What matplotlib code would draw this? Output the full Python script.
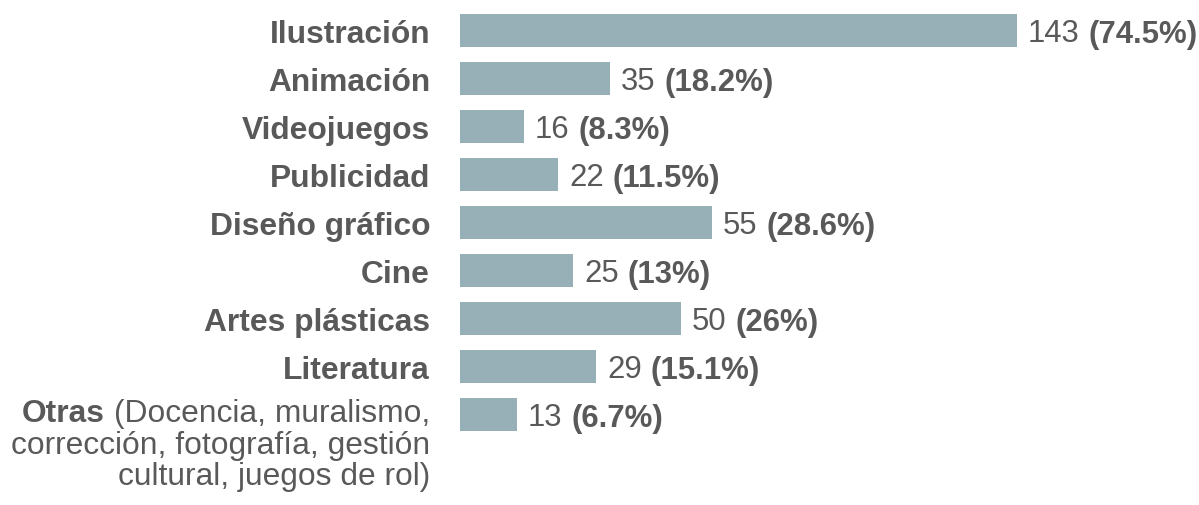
import matplotlib.pyplot as plt

categories = ["Ilustración", "Animación", "Videojuegos", "Publicidad",
              "Diseño gráfico", "Cine", "Artes plásticas", "Literatura", "Otras"]
counts = [143, 35, 16, 22, 55, 25, 50, 29, 13]
percents = ["74.5%", "18.2%", "8.3%", "11.5%", "28.6%", "13%", "26%", "15.1%", "6.7%"]
# bar lengths as drawn in the original picture (not strictly proportional to counts)
bar_lengths = [143, 38.5, 16.4, 25.2, 64.7, 29.0, 56.7, 34.9, 14.6]
otras_detail = ["(Docencia, muralismo,", "corrección, fotografía, gestión",
                "cultural, juegos de rol)"]

W, H = 1199, 506
BAR_X0 = 460          # left edge of bars in px
PX_PER_UNIT = 3.895
ROW0, ROW_STEP = 31.5, 48.0
FS_VAL = 22.4
FS_CAT = 22.9
GRAY = "#595959"
BAR_COLOR = "#97AFB6"
SPACE = 8.7           # width of a space in px

plt.rcParams["font.family"] = ["Liberation Sans", "DejaVu Sans"]

fig = plt.figure(figsize=(W / 100, H / 100), dpi=100)
ax = fig.add_axes([BAR_X0 / W, 0, 1 - BAR_X0 / W, 1])
ax.set_xlim(0, (W - BAR_X0) / PX_PER_UNIT)
ax.set_ylim((H - ROW0) / ROW_STEP, -ROW0 / ROW_STEP)
ax.axis("off")

ypos = list(range(len(categories)))
ax.barh(ypos, bar_lengths, height=33 / ROW_STEP, color=BAR_COLOR)

for i in ypos:
    # value label: regular count + bold percentage
    t = ax.annotate(str(counts[i]), xy=(bar_lengths[i], i), xytext=(11, -11),
                    textcoords="offset pixels", ha="left", va="baseline",
                    fontsize=FS_VAL, color=GRAY, annotation_clip=False)
    ax.annotate("(" + percents[i] + ")", xy=(1, 0), xycoords=t,
                xytext=(SPACE, 0), textcoords="offset pixels",
                ha="left", va="bottom", fontsize=FS_VAL, color=GRAY,
                fontweight="bold", annotation_clip=False)

    if categories[i] != "Otras":
        ax.annotate(categories[i], xy=(0, i), xytext=(-30, -11.3),
                    textcoords="offset pixels", ha="right", va="baseline",
                    fontsize=FS_CAT, color=GRAY, fontweight="bold",
                    annotation_clip=False)
    else:
        first = None
        for k, line in enumerate(otras_detail):
            tl = ax.annotate(line, xy=(0, i), xytext=(-30, -6.5 - 31.7 * k),
                             textcoords="offset pixels", ha="right",
                             va="baseline", fontsize=FS_CAT, color=GRAY,
                             annotation_clip=False)
            if k == 0:
                first = tl
        ax.annotate(categories[i], xy=(0, 0), xycoords=first,
                    xytext=(-SPACE, 0), textcoords="offset pixels",
                    ha="right", va="bottom", fontsize=FS_CAT, color=GRAY,
                    fontweight="bold", annotation_clip=False)

fig.savefig("out.png", dpi=100)
